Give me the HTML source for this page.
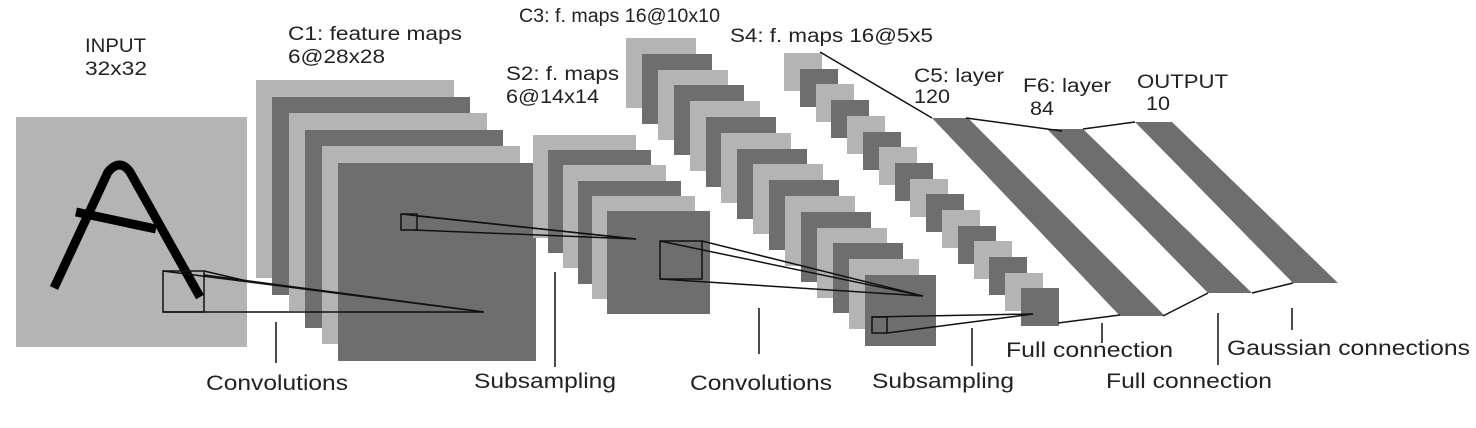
<!DOCTYPE html>
<html><head><meta charset="utf-8"><style>
html,body{margin:0;padding:0;background:#fff;}
svg{display:block;}
text{font-family:"Liberation Sans",Arial,sans-serif;fill:#222;}
</style></head><body>
<svg width="1476" height="428" viewBox="0 0 1476 428" xmlns="http://www.w3.org/2000/svg">
<g fill="none" stroke="none">
<!-- input -->
<rect x="16" y="117" width="231" height="230" fill="#b4b4b4"/>
<!-- C1 -->
<rect x="256" y="80" width="198" height="198" fill="#b4b4b4"/>
<rect x="272" y="97" width="198" height="198" fill="#6e6e6e"/>
<rect x="289" y="113" width="198" height="198" fill="#b4b4b4"/>
<rect x="305" y="130" width="198" height="198" fill="#6e6e6e"/>
<rect x="322" y="146" width="198" height="198" fill="#b4b4b4"/>
<rect x="338" y="163" width="198" height="198" fill="#6e6e6e"/>
<!-- S2 -->
<rect x="533" y="135" width="103" height="103" fill="#b4b4b4"/>
<rect x="548" y="150" width="103" height="103" fill="#6e6e6e"/>
<rect x="563" y="165" width="103" height="103" fill="#b4b4b4"/>
<rect x="578" y="181" width="103" height="103" fill="#6e6e6e"/>
<rect x="592" y="196" width="103" height="103" fill="#b4b4b4"/>
<rect x="607" y="211" width="103" height="103" fill="#6e6e6e"/>
<!-- C3 -->
<rect x="626" y="38" width="70" height="70" fill="#b4b4b4"/>
<rect x="642" y="54" width="70" height="70" fill="#6e6e6e"/>
<rect x="658" y="70" width="70" height="70" fill="#b4b4b4"/>
<rect x="674" y="85" width="70" height="70" fill="#6e6e6e"/>
<rect x="690" y="101" width="70" height="70" fill="#b4b4b4"/>
<rect x="706" y="117" width="70" height="70" fill="#6e6e6e"/>
<rect x="721" y="133" width="70" height="70" fill="#b4b4b4"/>
<rect x="737" y="149" width="70" height="70" fill="#6e6e6e"/>
<rect x="753" y="164" width="70" height="70" fill="#b4b4b4"/>
<rect x="769" y="180" width="70" height="70" fill="#6e6e6e"/>
<rect x="785" y="196" width="70" height="70" fill="#b4b4b4"/>
<rect x="801" y="212" width="70" height="70" fill="#6e6e6e"/>
<rect x="817" y="228" width="70" height="70" fill="#b4b4b4"/>
<rect x="833" y="243" width="70" height="70" fill="#6e6e6e"/>
<rect x="849" y="259" width="70" height="70" fill="#b4b4b4"/>
<rect x="865" y="275" width="71" height="71" fill="#6e6e6e"/>
<!-- S4 -->
<rect x="784" y="53" width="38" height="38" fill="#b4b4b4"/>
<rect x="800" y="69" width="38" height="38" fill="#6e6e6e"/>
<rect x="816" y="84" width="38" height="38" fill="#b4b4b4"/>
<rect x="831" y="100" width="38" height="38" fill="#6e6e6e"/>
<rect x="847" y="116" width="38" height="38" fill="#b4b4b4"/>
<rect x="863" y="132" width="38" height="38" fill="#6e6e6e"/>
<rect x="879" y="147" width="38" height="38" fill="#b4b4b4"/>
<rect x="895" y="163" width="38" height="38" fill="#6e6e6e"/>
<rect x="910" y="179" width="38" height="38" fill="#b4b4b4"/>
<rect x="926" y="194" width="38" height="38" fill="#6e6e6e"/>
<rect x="942" y="210" width="38" height="38" fill="#b4b4b4"/>
<rect x="958" y="226" width="38" height="38" fill="#6e6e6e"/>
<rect x="974" y="241" width="38" height="38" fill="#b4b4b4"/>
<rect x="989" y="257" width="38" height="38" fill="#6e6e6e"/>
<rect x="1005" y="273" width="38" height="38" fill="#b4b4b4"/>
<rect x="1021" y="288" width="38" height="38" fill="#6e6e6e"/>
<!-- bands -->
<polygon points="932,118 968,118 1165,316 1120,316" fill="#6e6e6e"/>
<polygon points="1047,129 1083,129 1252,293 1208,293" fill="#6e6e6e"/>
<polygon points="1135,122 1172,122 1338,283 1293,283" fill="#6e6e6e"/>
</g>
<!-- letter A -->
<g stroke="#000" stroke-width="9" fill="none" stroke-linecap="butt" stroke-linejoin="round">
<path d="M54,288 L108,172 Q120,158 130,172 L200,297"/>
<path d="M76,212 L156,229"/>
</g>
<g stroke="#111" stroke-width="1.5" fill="none">
<!-- input kernel -->
<rect x="163" y="271" width="41" height="41"/>
<line x1="163" y1="312" x2="484" y2="312"/>
<line x1="163" y1="271" x2="484" y2="312"/>
<line x1="204" y1="275" x2="484" y2="312"/>
<line x1="204" y1="271" x2="247" y2="281"/>
<!-- C1 kernel -->
<rect x="401" y="214" width="16" height="16"/>
<line x1="401" y1="214" x2="636" y2="239"/>
<line x1="414" y1="230" x2="636" y2="239"/>
<line x1="417" y1="216" x2="636" y2="239"/>
<!-- S2 kernel -->
<rect x="660" y="241" width="42" height="38"/>
<line x1="660" y1="241" x2="923" y2="296"/>
<line x1="702" y1="241" x2="923" y2="296"/>
<line x1="660" y1="279" x2="923" y2="296"/>
<!-- C3 kernel -->
<rect x="872" y="317" width="15" height="16"/>
<line x1="872" y1="317" x2="1033" y2="314"/>
<line x1="887" y1="333" x2="1033" y2="314"/>
<!-- fc lines -->
<line x1="820" y1="52" x2="932" y2="118"/>
<line x1="966" y1="118" x2="1062" y2="131"/>
<line x1="1083" y1="129" x2="1135" y2="122"/>
<line x1="1058" y1="323" x2="1120" y2="315"/>
<line x1="1163" y1="316" x2="1208" y2="293"/>
<line x1="1252" y1="293" x2="1293" y2="283"/>
<!-- ticks -->
<line x1="276" y1="322" x2="276" y2="363"/>
<line x1="555" y1="272" x2="555" y2="367"/>
<line x1="759" y1="308" x2="759" y2="354"/>
<line x1="972" y1="328" x2="972" y2="366"/>
<line x1="1102" y1="323" x2="1102" y2="343"/>
<line x1="1218" y1="313" x2="1218" y2="365"/>
<line x1="1292" y1="308" x2="1292" y2="330"/>
</g>
<g font-size="19">
<text x="85" y="52" textLength="61" lengthAdjust="spacingAndGlyphs">INPUT</text>
<text x="85" y="75" textLength="62" lengthAdjust="spacingAndGlyphs">32x32</text>
<text x="288" y="40" textLength="174" lengthAdjust="spacingAndGlyphs">C1: feature maps</text>
<text x="288" y="63" textLength="97" lengthAdjust="spacingAndGlyphs">6@28x28</text>
<text x="519" y="22" textLength="201" lengthAdjust="spacingAndGlyphs">C3: f. maps 16@10x10</text>
<text x="506" y="80" textLength="113" lengthAdjust="spacingAndGlyphs">S2: f. maps</text>
<text x="506" y="103" textLength="93" lengthAdjust="spacingAndGlyphs">6@14x14</text>
<text x="730" y="42" textLength="203" lengthAdjust="spacingAndGlyphs">S4: f. maps 16@5x5</text>
<text x="914" y="82" textLength="90" lengthAdjust="spacingAndGlyphs">C5: layer</text>
<text x="914" y="103" textLength="36" lengthAdjust="spacingAndGlyphs">120</text>
<text x="1023" y="92" textLength="88" lengthAdjust="spacingAndGlyphs">F6: layer</text>
<text x="1030" y="115" textLength="24" lengthAdjust="spacingAndGlyphs">84</text>
<text x="1137" y="88" textLength="91" lengthAdjust="spacingAndGlyphs">OUTPUT</text>
<text x="1146" y="110" textLength="24" lengthAdjust="spacingAndGlyphs">10</text>
</g>
<g font-size="21">
<text x="206" y="390" textLength="142" lengthAdjust="spacingAndGlyphs">Convolutions</text>
<text x="474" y="388" textLength="142" lengthAdjust="spacingAndGlyphs">Subsampling</text>
<text x="690" y="390" textLength="142" lengthAdjust="spacingAndGlyphs">Convolutions</text>
<text x="872" y="388" textLength="142" lengthAdjust="spacingAndGlyphs">Subsampling</text>
<text x="1006" y="357" textLength="167" lengthAdjust="spacingAndGlyphs">Full connection</text>
<text x="1106" y="388" textLength="166" lengthAdjust="spacingAndGlyphs">Full connection</text>
<text x="1227" y="355" textLength="243" lengthAdjust="spacingAndGlyphs">Gaussian connections</text>
</g>
</svg>
</body></html>
